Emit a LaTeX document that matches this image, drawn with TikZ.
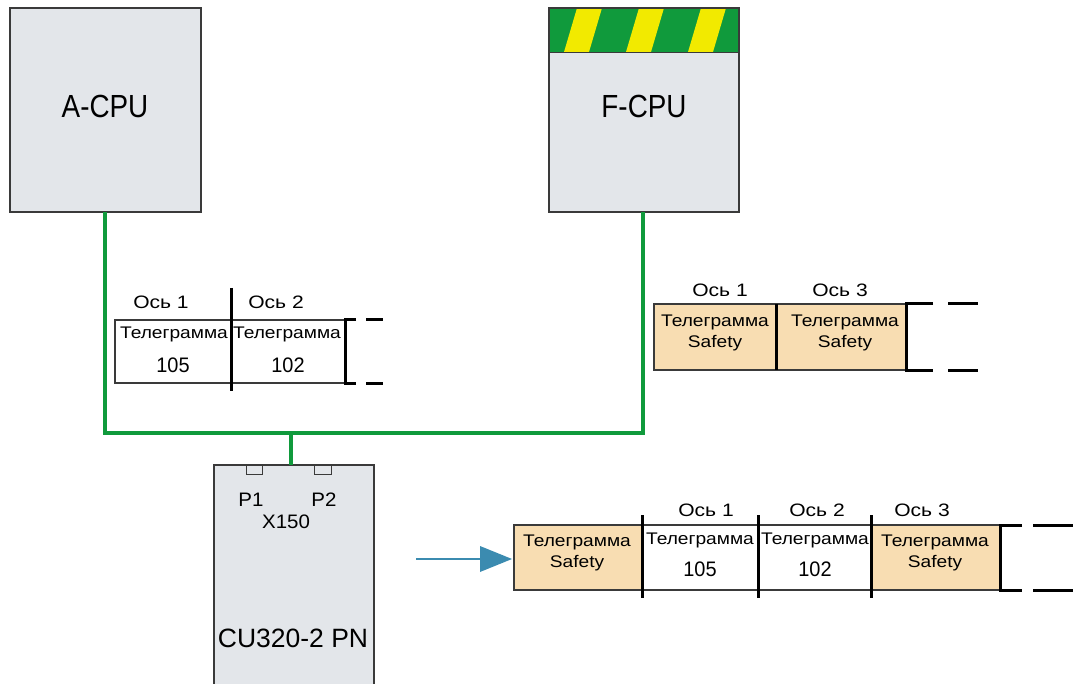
\documentclass[tikz,border=0pt]{standalone}
\usepackage{fontspec}
\setmainfont{Liberation Sans}
\newfontfamily\bigfont[FakeStretch=0.87]{Liberation Sans}
\newfontfamily\cufont[FakeStretch=1.0]{Liberation Sans}
\newfontfamily\pfont[FakeStretch=1.05]{Liberation Sans}
\newfontfamily\axfont[FakeStretch=1.17]{Liberation Sans}
\newfontfamily\tgfont[FakeStretch=1.14]{Liberation Sans}
\newfontfamily\numfont[FakeStretch=0.95]{Liberation Sans}
\definecolor{boxgray}{HTML}{E3E6EA}
\definecolor{boxedge}{HTML}{3A3A3A}
\definecolor{netgreen}{HTML}{109A3C}
\definecolor{stripeyellow}{HTML}{F2EA00}
\definecolor{safetyfill}{HTML}{F8DDB2}
\definecolor{arrowblue}{HTML}{3B8BB0}
\tikzset{
  unitbox/.style={draw=boxedge, line width=1.8pt, fill=boxgray},
  netline/.style={draw=netgreen, line width=4.5pt},
  whitecell/.style={draw=boxedge, line width=1.1pt, fill=white},
  safecell/.style={draw=boxedge, line width=1.1pt, fill=safetyfill},
  sepline/.style={draw=black, line width=3pt},
  brkline/.style={draw=black, line width=3pt},
  tgtext/.style={font=\tgfont\fontsize{16.8}{20.5}\selectfont, align=center, inner sep=0pt},
  numtext/.style={font=\numfont\fontsize{21}{23}\selectfont, inner sep=0pt},
  axtext/.style={font=\axfont\fontsize{18}{20}\selectfont, inner sep=0pt},
  bigtext/.style={font=\bigfont\fontsize{32}{34}\selectfont, inner sep=0pt},
  cutext/.style={font=\cufont\fontsize{26.5}{29}\selectfont, inner sep=0pt},
  midtext/.style={font=\pfont\fontsize{19.5}{21}\selectfont, inner sep=0pt},
}
\begin{document}
\begin{tikzpicture}[x=1pt,y=-1pt]
\useasboundingbox (0,0) rectangle (1073,684);
% A-CPU
\draw[unitbox] (10,8) rectangle (201,212);
\node[bigtext] (acpu) at (105,106) {A-CPU};
\coordinate (abot) at (105,212);
% F-CPU
\draw[unitbox] (549,8) rectangle (739,212);
\begin{scope}
\clip (549,8) rectangle (739,52);
\fill[netgreen] (549,8) rectangle (739,52);
\foreach \s in {502,564,626,688,750} {
  \fill[stripeyellow] (\s,52) -- (\s+25,52) -- (\s+38,8) -- (\s+13,8) -- cycle;
}
\end{scope}
\draw[boxedge, line width=1.8pt] (549,8) rectangle (739,212);
\draw[boxedge, line width=0.6pt] (549,52) -- (739,52);
\node[bigtext] (fcpu) at (644,106) {F-CPU};
\coordinate (fbot) at (643,212);
% CU320
\draw[unitbox] (214,465) rectangle (374,690);
\draw[boxedge, line width=1pt, fill=boxgray] (246,465) rectangle (262,474);
\draw[boxedge, line width=1pt, fill=boxgray] (314,465) rectangle (331,474);
\node[midtext] (p1) at (251,500) {P1};
\node[midtext] (p2) at (324,500) {P2};
\node[midtext] (x150) at (286,522) {X150};
\node[cutext] (cu) at (293,638) {CU320-2 PN};
\coordinate (cutop) at (291,465);
% network
\coordinate (jl) at (105,433);
\coordinate (jr) at (643,433);
\coordinate (jm) at (291,433);
\draw[netline] (abot) -- (jl) -- (jr) -- (fbot);
\draw[netline] (jm) -- (cutop);
% telegram A
\draw[whitecell] (115,320) rectangle (345,383);
\draw[sepline] (231,288) -- (231,391);
\draw[brkline] (356,320) -- (345,320) -- (345,383) -- (356,383);
\draw[brkline] (366,320) -- (383,320);
\draw[brkline] (366,383) -- (383,383);
\node[axtext] (a1) at (161,302) {Ось 1};
\node[axtext] (a2) at (276,302) {Ось 2};
\node[tgtext] (ta1) at (174,334) {Телеграмма};
\node[numtext] (n1) at (173,365) {105};
\node[tgtext] (ta2) at (287,334) {Телеграмма};
\node[numtext] (n2) at (288,365) {102};
% telegram F
\draw[safecell] (654,304) rectangle (906,370);
\draw[sepline] (776,304) -- (776,370);
\draw[brkline] (933,304) -- (906,304) -- (906,370) -- (933,370);
\draw[brkline] (948,304) -- (978,304);
\draw[brkline] (948,370) -- (978,370);
\node[axtext] (f1) at (720,290) {Ось 1};
\node[axtext] (f3) at (840,290) {Ось 3};
\node[tgtext] (tf1) at (715,333) {Телеграмма\\Safety};
\node[tgtext] (tf3) at (845,333) {Телеграмма\\Safety};
% telegram bottom
\draw[safecell] (514,525) rectangle (642,590);
\draw[whitecell] (642,525) rectangle (758,590);
\draw[whitecell] (758,525) rectangle (871,590);
\draw[safecell] (871,525) rectangle (1000,590);
\draw[sepline] (642,515) -- (642,598);
\draw[sepline] (758,515) -- (758,598);
\draw[sepline] (871,515) -- (871,598);
\draw[brkline] (1022,525) -- (1000,525) -- (1000,590) -- (1022,590);
\draw[brkline] (1033,525) -- (1073,525);
\draw[brkline] (1033,590) -- (1073,590);
\node[axtext] (b1) at (706,510) {Ось 1};
\node[axtext] (b2) at (817,510) {Ось 2};
\node[axtext] (b3) at (922,510) {Ось 3};
\node[tgtext] (tb1) at (577,553) {Телеграмма\\Safety};
\node[tgtext] (tb2) at (700,540) {Телеграмма};
\node[numtext] (nb2) at (700,569) {105};
\node[tgtext] (tb3) at (815,540) {Телеграмма};
\node[numtext] (nb3) at (815,569) {102};
\node[tgtext] (tb4) at (935,553) {Телеграмма\\Safety};
% arrow
\coordinate (as) at (416,559);
\coordinate (ae) at (482,559);
\draw[arrowblue, line width=2.5pt] (as) -- (ae);
\fill[arrowblue] (480,546) -- (512,559) -- (480,572) -- cycle;
\end{tikzpicture}
\end{document}
